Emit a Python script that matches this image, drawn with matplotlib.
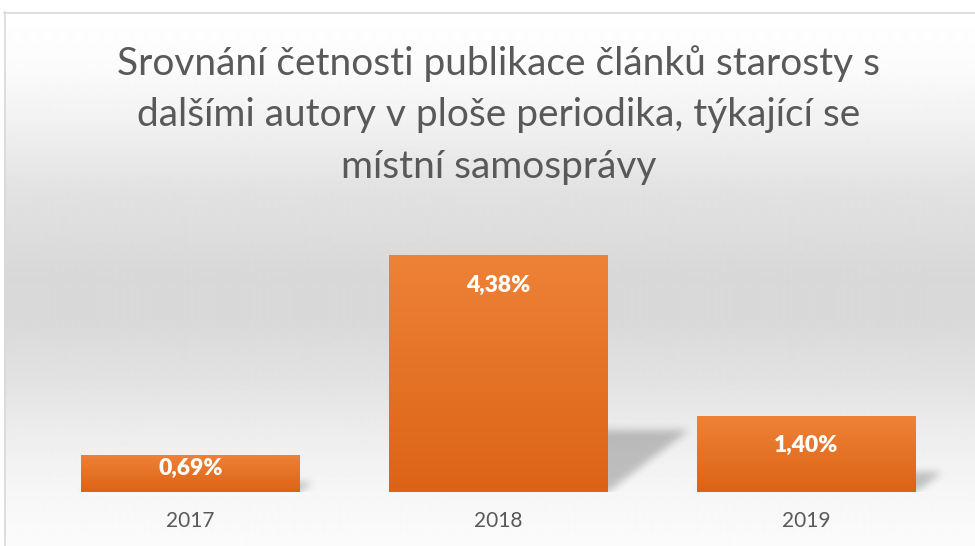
import numpy as np
import matplotlib
matplotlib.use("Agg")
import matplotlib.pyplot as plt
from matplotlib.path import Path

# ---- data ----
categories = ['2017', '2018', '2019']
values = [0.69, 4.38, 1.40]
value_labels = ['0,69%', '4,38%', '1,40%']
title_text = ('Srovnání četnosti publikace článků starosty s\n'
              'dalšími autory v ploše periodika, týkající se\n'
              'místní samosprávy')

FONT = 'Lato'
W, H = 975, 546
fig = plt.figure(figsize=(W / 100, H / 100), dpi=100)

# ---- background (chart area gradient + border) ----
bg = fig.add_axes([0, 0, 1, 1], zorder=0)
bg.set_xlim(0, W)
bg.set_ylim(H, 0)
bg.axis('off')
ys = np.arange(12, H) + 0.5
prof = np.interp(ys, [12, 60, 120, 190, 280, 320, 380, 440, 490, 546],
                 [255, 252, 242, 226, 216, 217, 226, 238, 246, 251]) / 255.0
grad = np.repeat(prof[:, None], 2, axis=1)
bg.imshow(grad, cmap='gray', vmin=0, vmax=1, extent=(4, W, H, 12),
          aspect='auto', interpolation='bilinear', zorder=0)
bg.plot([4, W], [12.5, 12.5], color='#d9d9d9', lw=1.2, zorder=1)
bg.plot([4.5, 4.5], [12, H], color='#d9d9d9', lw=1.2, zorder=1)

# ---- main axes ----
base_px = 492
px_per_unit = 54.1
ymax = 5.0
ax = fig.add_axes([36.5 / W, (H - base_px) / H, 924 / W,
                   ymax * px_per_unit / H], zorder=2)
ax.patch.set_alpha(0)
for s in ax.spines.values():
    s.set_visible(False)
x = np.arange(len(categories))
bw = 0.711
bars = ax.bar(x, values, width=bw, color='#e57325', zorder=2)
ax.set_xlim(-0.5, len(categories) - 0.5)
ax.set_ylim(0, ymax)
ax.set_yticks([])
ax.set_xticks(x)
ax.set_xticklabels(categories, fontsize=15, color='#595959', family=FONT)
ax.tick_params(axis='x', length=0, pad=13.5)

# gradient fill for bars
bgrad = np.linspace(0, 1, 100)[:, None]
top_c = np.array([0xEE, 0x82, 0x37]) / 255.0
bot_c = np.array([0xDC, 0x63, 0x16]) / 255.0
cols = top_c[None, None, :] * (1 - bgrad[:, :, None]) + bot_c[None, None, :] * bgrad[:, :, None]
for b in bars:
    x0 = b.get_x(); x1 = x0 + b.get_width(); h = b.get_height()
    im = ax.imshow(cols, extent=(x0, x1, 0, h), aspect='auto', origin='upper',
                   zorder=3, interpolation='bilinear')
    im.set_clip_path(b)
ax.set_xlim(-0.5, len(categories) - 0.5)
ax.set_ylim(0, ymax)

# ---- shadows (perspective, blurred) ----
fig.canvas.draw()
yy, xx = np.mgrid[0:H, 0:W]
pts = np.column_stack([xx.ravel() + 0.5, yy.ravel() + 0.5])
mask = np.zeros(H * W)
for b in bars:
    x0 = b.get_x(); x1 = x0 + b.get_width(); h = b.get_height()
    (dx0, dy0), (dx1, dy1) = ax.transData.transform([(x0, 0), (x1, h)])
    X0, X1 = dx0, dx1
    Yb = H - dy0
    hp = dy1 - dy0
    sh = 0.26 * hp
    sk = 0.34 * hp
    poly = Path([(X0, Yb), (X1, Yb), (X1 + sk, Yb - sh), (X0 + sk, Yb - sh), (X0, Yb)])
    mask = np.maximum(mask, poly.contains_points(pts).astype(float))
mask = mask.reshape(H, W)

def box_blur(a, r, axis):
    k = np.ones(2 * r + 1) / (2 * r + 1)
    return np.apply_along_axis(lambda m: np.convolve(m, k, mode='same'), axis, a)

for _ in range(2):
    mask = box_blur(mask, 4, 1)
    mask = box_blur(mask, 4, 0)
Ybase = H - ax.transData.transform((0, 0))[1]
mask[int(round(Ybase)):, :] = 0
rgba = np.zeros((H, W, 4))
rgba[..., 3] = mask * 0.22
bg.imshow(rgba, extent=(0, W, H, 0), aspect='auto', zorder=0.5,
          interpolation='nearest')
bg.set_xlim(0, W)
bg.set_ylim(H, 0)

# ---- data labels ----
for b, lab in zip(bars, value_labels):
    cx = b.get_x() + b.get_width() / 2
    h = b.get_height()
    hp = h * px_per_unit
    off = min(30, hp * 0.38)
    ax.annotate(lab, xy=(cx, h), xytext=(0, -off * 0.72), textcoords='offset points',
                ha='center', va='center', color='white', fontsize=16.5,
                fontweight='heavy', family=FONT, zorder=5)

# ---- title ----
fig.text(498.5 / W, 1 - 115 / H, title_text, ha='center', va='center',
         fontsize=28, color='#595959', family=FONT, linespacing=1.53)

fig.savefig('out.png', dpi=100)
